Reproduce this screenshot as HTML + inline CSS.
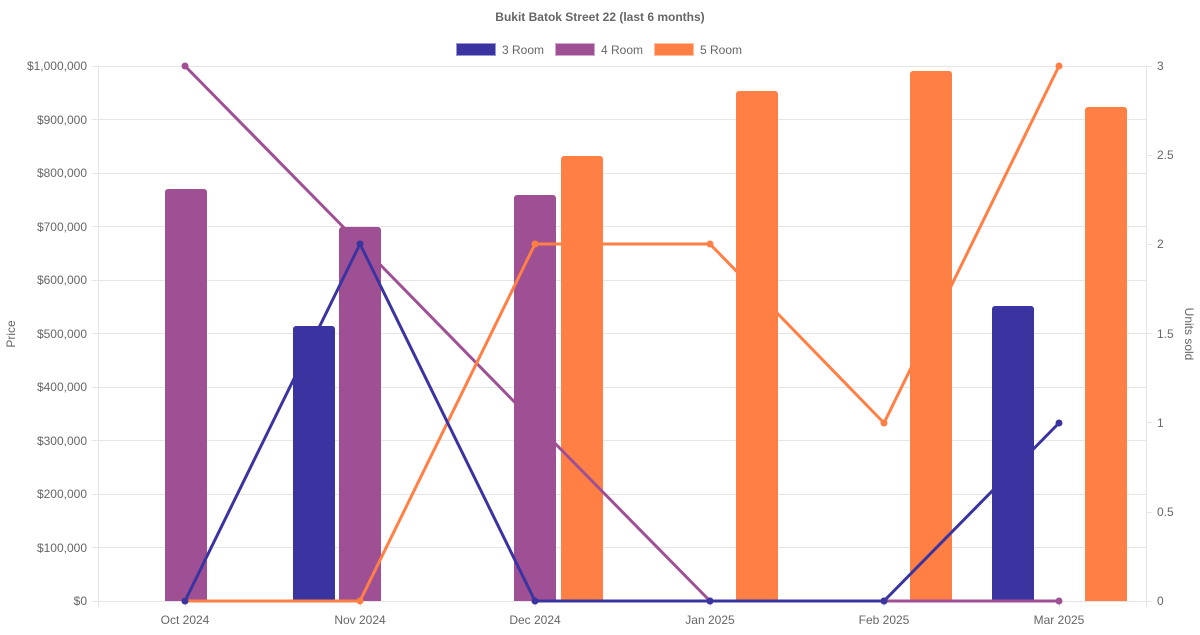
<!DOCTYPE html>
<html><head><meta charset="utf-8"><style>
html,body{margin:0;padding:0;background:#fff;}
svg text{font-family:"Liberation Sans",sans-serif;fill:#666;}
</style></head><body>
<svg width="1200" height="630" viewBox="0 0 1200 630" xmlns="http://www.w3.org/2000/svg">
<text x="600" y="21" text-anchor="middle" font-size="12" font-weight="bold">Bukit Batok Street 22 (last 6 months)</text>
<rect x="456.5" y="43.5" width="39" height="12" fill="#3a34a0" stroke="#9a97d6" stroke-width="1"/>
<text x="502" y="54" font-size="12">3 Room</text>
<rect x="555.5" y="43.5" width="39" height="12" fill="#9f5094" stroke="#d6a6cf" stroke-width="1"/>
<text x="601" y="54" font-size="12">4 Room</text>
<rect x="654.5" y="43.5" width="39" height="12" fill="#ff7f44" stroke="#ffbf9f" stroke-width="1"/>
<text x="700" y="54" font-size="12">5 Room</text>
<g stroke="#e5e5e5" stroke-width="1">
<line x1="92" y1="66.5" x2="1152" y2="66.5"/>
<line x1="92" y1="119.5" x2="1146" y2="119.5"/>
<line x1="92" y1="173.5" x2="1146" y2="173.5"/>
<line x1="92" y1="226.5" x2="1146" y2="226.5"/>
<line x1="92" y1="280.5" x2="1146" y2="280.5"/>
<line x1="92" y1="333.5" x2="1146" y2="333.5"/>
<line x1="92" y1="387.5" x2="1146" y2="387.5"/>
<line x1="92" y1="440.5" x2="1146" y2="440.5"/>
<line x1="92" y1="494.5" x2="1146" y2="494.5"/>
<line x1="92" y1="547.5" x2="1146" y2="547.5"/>
<line x1="92" y1="601.5" x2="1152" y2="601.5"/>
<line x1="98.5" y1="66" x2="98.5" y2="607"/>
<line x1="1146.5" y1="66" x2="1146.5" y2="607"/>
<line x1="185.5" y1="601" x2="185.5" y2="607"/>
<line x1="360.5" y1="601" x2="360.5" y2="607"/>
<line x1="535.5" y1="601" x2="535.5" y2="607"/>
<line x1="710.5" y1="601" x2="710.5" y2="607"/>
<line x1="884.5" y1="601" x2="884.5" y2="607"/>
<line x1="1059.5" y1="601" x2="1059.5" y2="607"/>
<line x1="1146" y1="155.5" x2="1152" y2="155.5"/>
<line x1="1146" y1="244.5" x2="1152" y2="244.5"/>
<line x1="1146" y1="333.5" x2="1152" y2="333.5"/>
<line x1="1146" y1="422.5" x2="1152" y2="422.5"/>
<line x1="1146" y1="512.5" x2="1152" y2="512.5"/>
</g>
<g font-size="12" text-anchor="end">
<text x="87" y="70">$1,000,000</text>
<text x="87" y="124">$900,000</text>
<text x="87" y="177">$800,000</text>
<text x="87" y="231">$700,000</text>
<text x="87" y="284">$600,000</text>
<text x="87" y="338">$500,000</text>
<text x="87" y="391">$400,000</text>
<text x="87" y="445">$300,000</text>
<text x="87" y="498">$200,000</text>
<text x="87" y="552">$100,000</text>
<text x="87" y="605">$0</text>
</g>
<g font-size="12" text-anchor="start">
<text x="1157" y="70">3</text>
<text x="1157" y="159">2.5</text>
<text x="1157" y="248">2</text>
<text x="1157" y="338">1.5</text>
<text x="1157" y="427">1</text>
<text x="1157" y="516">0.5</text>
<text x="1157" y="605">0</text>
</g>
<g font-size="12" text-anchor="middle">
<text x="185" y="624">Oct 2024</text>
<text x="360" y="624">Nov 2024</text>
<text x="535" y="624">Dec 2024</text>
<text x="710" y="624">Jan 2025</text>
<text x="884" y="624">Feb 2025</text>
<text x="1059" y="624">Mar 2025</text>
</g>
<text x="15" y="334" font-size="12" text-anchor="middle" transform="rotate(-90 15 334)">Price</text>
<text x="1185" y="334" font-size="12" text-anchor="middle" transform="rotate(90 1185 334)">Units sold</text>
<g>
<path d="M165 601V192a3 3 0 0 1 3-3h36a3 3 0 0 1 3 3V601z" fill="#9f5094"/>
<path d="M293 601V329a3 3 0 0 1 3-3h36a3 3 0 0 1 3 3V601z" fill="#3a34a0"/>
<path d="M339 601V230a3 3 0 0 1 3-3h36a3 3 0 0 1 3 3V601z" fill="#9f5094"/>
<path d="M514 601V198a3 3 0 0 1 3-3h36a3 3 0 0 1 3 3V601z" fill="#9f5094"/>
<path d="M561 601V159a3 3 0 0 1 3-3h36a3 3 0 0 1 3 3V601z" fill="#ff7f44"/>
<path d="M736 601V94a3 3 0 0 1 3-3h36a3 3 0 0 1 3 3V601z" fill="#ff7f44"/>
<path d="M910 601V74a3 3 0 0 1 3-3h36a3 3 0 0 1 3 3V601z" fill="#ff7f44"/>
<path d="M992 601V309a3 3 0 0 1 3-3h36a3 3 0 0 1 3 3V601z" fill="#3a34a0"/>
<path d="M1085 601V110a3 3 0 0 1 3-3h36a3 3 0 0 1 3 3V601z" fill="#ff7f44"/>
</g>
<g fill="none" stroke-width="3" stroke-linejoin="round">
<polyline stroke="#9f5094" points="185,66 360,244 535,423 710,601 884,601 1059,601"/>
<polyline stroke="#ff7f44" points="185,601 360,601 535,244 710,244 884,423 1059,66"/>
<polyline stroke="#3a34a0" points="185,601 360,244 535,601 710,601 884,601 1059,423"/>
</g>
<g fill="#9f5094"><circle cx="185" cy="66" r="3.5"/><circle cx="360" cy="244" r="3.5"/><circle cx="535" cy="423" r="3.5"/><circle cx="710" cy="601" r="3.5"/><circle cx="884" cy="601" r="3.5"/><circle cx="1059" cy="601" r="3.5"/></g>
<g fill="#ff7f44"><circle cx="185" cy="601" r="3.5"/><circle cx="360" cy="601" r="3.5"/><circle cx="535" cy="244" r="3.5"/><circle cx="710" cy="244" r="3.5"/><circle cx="884" cy="423" r="3.5"/><circle cx="1059" cy="66" r="3.5"/></g>
<g fill="#3a34a0"><circle cx="185" cy="601" r="3.5"/><circle cx="360" cy="244" r="3.5"/><circle cx="535" cy="601" r="3.5"/><circle cx="710" cy="601" r="3.5"/><circle cx="884" cy="601" r="3.5"/><circle cx="1059" cy="423" r="3.5"/></g>
</svg>
</body></html>
